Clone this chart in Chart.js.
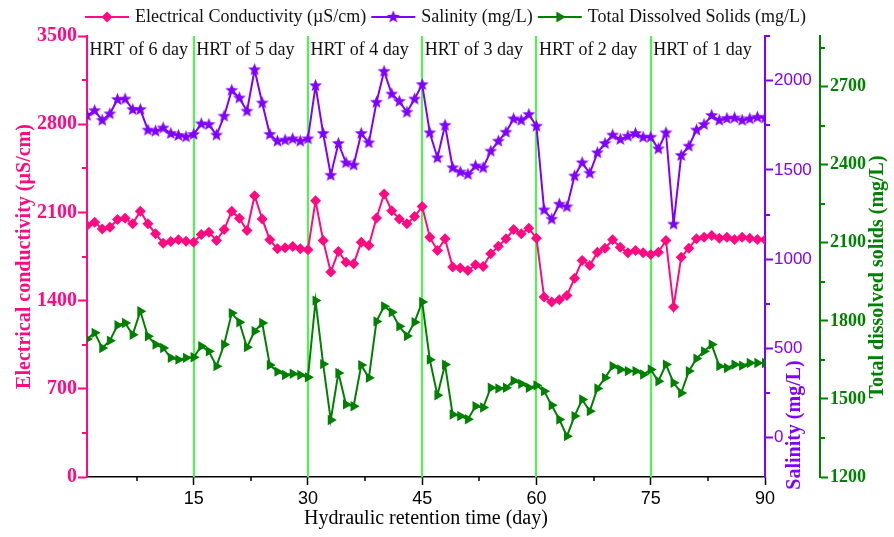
<!DOCTYPE html>
<html>
<head>
<meta charset="utf-8">
<script src="https://cdn.jsdelivr.net/npm/chart.js@4.4.1/dist/chart.umd.min.js"></script>
<style>
  html, body { margin: 0; padding: 0; background: #fff; }
  #wrap { width: 894px; height: 537px; }
</style>
</head>
<body>
<div id="wrap"><canvas id="chartHRT"></canvas></div>
<script>
// days of operation
const days = [1,2,3,4,5,6,7,8,9,10,11,12,13,14,15,16,17,18,19,20,
  21,22,23,24,25,26,27,28,29,30,31,32,33,34,35,36,37,38,39,40,
  41,42,43,44,45,46,47,48,49,50,51,52,53,54,55,56,57,58,59,60,
  61,62,63,64,65,66,67,68,69,70,71,72,73,74,75,76,77,78,79,80,
  81,82,83,84,85,86,87,88,89,90];

// Electrical conductivity (uS/cm)
const conductivity = [1996,2022,1969,1982,2043,2054,2009,2109,2009,1930,
  1856,1869,1882,1872,1864,1924,1943,1877,1964,2109,
  2054,1956,2233,2048,1882,1811,1819,1829,1811,1803,
  2193,1877,1626,1790,1705,1692,1864,1837,2056,2246,
  2114,2048,2009,2067,2146,1903,1798,1890,1666,1658,
  1639,1684,1671,1771,1832,1890,1964,1930,1974,1895,
  1428,1388,1407,1441,1578,1718,1679,1784,1816,1882,
  1824,1779,1798,1779,1766,1784,1877,1349,1745,1816,
  1890,1903,1916,1895,1903,1885,1903,1895,1885,1882];

// Salinity (mg/L)
const salinity = [1805,1832,1778,1814,1894,1897,1838,1838,1723,1717,
  1735,1704,1693,1685,1699,1758,1754,1695,1801,1946,
  1903,1829,2061,1875,1699,1661,1667,1674,1661,1674,
  1972,1704,1470,1648,1540,1527,1704,1652,1879,2052,
  1925,1884,1823,1897,1978,1708,1568,1750,1512,1488,
  1475,1522,1512,1605,1661,1711,1786,1778,1810,1745,
  1276,1224,1308,1293,1466,1540,1481,1596,1648,1695,
  1671,1689,1704,1683,1683,1618,1708,1196,1581,1633,
  1723,1754,1805,1778,1788,1791,1778,1786,1795,1791];

// Total dissolved solids (mg/L)
const tds = [1730,1754,1696,1724,1783,1792,1747,1837,1741,1709,
  1696,1658,1651,1658,1660,1703,1683,1626,1709,1830,
  1795,1699,1760,1792,1630,1605,1592,1597,1592,1583,
  1878,1634,1419,1600,1479,1472,1630,1581,1798,1856,
  1833,1779,1742,1795,1873,1651,1514,1632,1440,1434,
  1422,1472,1467,1543,1540,1543,1570,1558,1543,1552,
  1530,1476,1421,1357,1434,1498,1453,1540,1581,1626,
  1613,1607,1607,1594,1613,1568,1632,1562,1523,1607,
  1655,1683,1709,1626,1619,1632,1628,1638,1638,1638];

// HRT stages
const hrtStarts = [1, 15, 30, 45, 60, 75];
const hrtBounds = [15, 30, 45, 60, 75];
const hrtLabels = ['HRT of 6 day', 'HRT of 5 day', 'HRT of 4 day', 'HRT of 3 day', 'HRT of 2 day', 'HRT of 1 day'];

// tick values (labels shown only on the major ones)
const xTicks = [7.5, 15, 22.5, 30, 37.5, 45, 52.5, 60, 67.5, 75, 82.5, 90];
const ecTicks = [0, 350, 700, 1050, 1400, 1750, 2100, 2450, 2800, 3150, 3500];
const salTicks = [0, 250, 500, 750, 1000, 1250, 1500, 1750, 2000, 2250];
const tdsTicks = [1200, 1350, 1500, 1650, 1800, 1950, 2100, 2250, 2400, 2550, 2700, 2850];

const pink = '#ff0a80', purple = '#8000ff', green = '#008000', lime = '#40ff40';
const serif = "'Liberation Serif', 'Times New Roman', serif";
const sans = "'Liberation Sans', Arial, sans-serif";

// small marker pictures (filled star, legend line+marker)
function icon(kind, color, w, h) {
  const cv = document.createElement('canvas');
  cv.width = w; cv.height = h;
  const c = cv.getContext('2d');
  c.fillStyle = color; c.strokeStyle = color;
  const cx = w / 2, cy = h / 2;
  if (w > h) {
    c.lineWidth = 2;
    c.beginPath(); c.moveTo(1, cy); c.lineTo(w - 1, cy); c.stroke();
  }
  c.beginPath();
  if (kind === 'diamond') {
    c.moveTo(cx, cy - 5.5); c.lineTo(cx + 5.5, cy); c.lineTo(cx, cy + 5.5); c.lineTo(cx - 5.5, cy);
  } else if (kind === 'star') {
    for (let k = 0; k < 10; k++) {
      const r = k % 2 ? 2.9 : 6.8;
      const a = -Math.PI / 2 + k * Math.PI / 5;
      c.lineTo(cx + r * Math.cos(a), cy + r * Math.sin(a));
    }
  } else {
    c.moveTo(cx + 6, cy); c.lineTo(cx - 3.5, cy - 5.5); c.lineTo(cx - 3.5, cy + 5.5);
  }
  c.closePath();
  c.fill();
  return cv;
}

const starMark = icon('star', purple, 15, 15);
const legendIcons = [icon('diamond', pink, 46, 16), icon('star', purple, 46, 16), icon('tri', green, 46, 16)];

const hrtPlugin = {
  id: 'hrt',
  beforeDatasetsDraw(chart) {
    const {ctx, chartArea, scales} = chart;
    ctx.save();
    ctx.strokeStyle = lime;
    ctx.lineWidth = 2;
    hrtBounds.forEach(d => {
      const px = Math.round(scales.x.getPixelForValue(d));
      ctx.beginPath();
      ctx.moveTo(px, chartArea.top);
      ctx.lineTo(px, chartArea.bottom);
      ctx.stroke();
    });
    ctx.fillStyle = '#111';
    ctx.font = '18px ' + serif;
    ctx.textBaseline = 'alphabetic';
    hrtStarts.forEach((d, i) => {
      ctx.fillText(hrtLabels[i], scales.x.getPixelForValue(d) + 2.5, chartArea.top + 19);
    });
    ctx.restore();
  }
};

const extrasPlugin = {
  id: 'extras',
  afterDraw(chart) {
    const {ctx, chartArea, scales} = chart;
    // minor tick marks
    [['x', 15, '#000'], ['y', 700, pink], ['y1', 500, purple], ['y2', 300, green]].forEach(([id, major, color]) => {
      const s = scales[id];
      ctx.save();
      ctx.strokeStyle = color;
      ctx.lineWidth = id === 'x' ? 1.5 : 2;
      s.ticks.forEach(t => {
        if (t.value % major === 0) return;
        const p = Math.round(s.getPixelForValue(t.value));
        ctx.beginPath();
        if (id === 'x') { ctx.moveTo(p, s.top); ctx.lineTo(p, s.top + 4); }
        else if (id === 'y') { ctx.moveTo(s.right, p); ctx.lineTo(s.right - 5, p); }
        else { ctx.moveTo(s.left, p); ctx.lineTo(s.left + 5, p); }
        ctx.stroke();
      });
      ctx.restore();
    });
    // right axis titles
    ctx.save();
    ctx.textAlign = 'center';
    ctx.textBaseline = 'middle';
    ctx.font = 'bold 20px ' + serif;
    ctx.fillStyle = purple;
    ctx.translate(scales.y1.left + 30, chartArea.bottom - 52);
    ctx.rotate(-Math.PI / 2);
    ctx.fillText('Salinity (mg/L)', 0, 0);
    ctx.restore();
    ctx.save();
    ctx.textAlign = 'center';
    ctx.textBaseline = 'middle';
    ctx.font = 'bold 20px ' + serif;
    ctx.fillStyle = green;
    ctx.translate(scales.y2.right - 16, chartArea.top + 241);
    ctx.rotate(-Math.PI / 2);
    ctx.fillText('Total dissolved solids (mg/L)', 0, 0);
    ctx.restore();
  }
};

const setTicks = list => scale => { scale.ticks = list.map(v => ({value: v})); };

new Chart(document.querySelector('#chartHRT'), {
  type: 'line',
  data: {
    labels: days,
    datasets: [{
      label: 'Electrical Conductivity (µS/cm)',
      data: conductivity,
      yAxisID: 'y',
      borderColor: pink,
      backgroundColor: pink,
      borderWidth: 2,
      pointStyle: 'rectRot',
      pointRadius: 5.5,
      pointBorderWidth: 0
    }, {
      label: 'Salinity (mg/L)',
      data: salinity,
      yAxisID: 'y1',
      borderColor: purple,
      backgroundColor: purple,
      borderWidth: 2,
      pointStyle: starMark,
      pointRadius: 6
    }, {
      label: 'Total Dissolved Solids (mg/L)',
      data: tds,
      yAxisID: 'y2',
      borderColor: green,
      backgroundColor: green,
      borderWidth: 2,
      pointStyle: 'triangle',
      pointRotation: 90,
      pointRadius: 6,
      pointBorderWidth: 0
    }]
  },
  options: {
    responsive: true,
    maintainAspectRatio: false,
    animation: false,
    layout: { padding: 0 },
    plugins: {
      tooltip: { enabled: false },
      legend: {
        position: 'top',
        labels: {
          usePointStyle: true,
          pointStyleWidth: 38,
          padding: 8,
          color: '#111',
          font: { family: serif, size: 18 },
          generateLabels: chart => Chart.defaults.plugins.legend.labels.generateLabels(chart)
            .map((item, i) => Object.assign(item, { pointStyle: legendIcons[i], rotation: 0 }))
        }
      }
    },
    scales: {
      x: {
        type: 'linear',
        min: 1,
        max: 90,
        afterBuildTicks: setTicks(xTicks),
        afterFit: s => { s.height = 60; },
        ticks: {
          autoSkip: false, maxRotation: 0, padding: 3, color: '#000',
          font: { family: sans, size: 18 },
          callback: v => v % 15 === 0 ? v : ''
        },
        grid: {
          drawOnChartArea: false, tickLength: 8, tickWidth: 1.5,
          tickColor: c => c.tick && c.tick.value % 15 === 0 ? '#000' : 'rgba(0,0,0,0)'
        },
        border: { color: '#000', width: 1.5 },
        title: {
          display: true, text: 'Hydraulic retention time (day)', color: '#000',
          font: { family: serif, size: 20 }, padding: 6
        }
      },
      y: {
        position: 'left',
        min: 0,
        max: 3500,
        afterBuildTicks: setTicks(ecTicks),
        afterFit: s => { s.width = 87; },
        ticks: {
          autoSkip: false, padding: 1, color: pink,
          font: { family: serif, size: 20, weight: 'bold' },
          callback: v => v % 700 === 0 ? v : ''
        },
        grid: {
          drawOnChartArea: false, tickLength: 9, tickWidth: 2,
          tickColor: c => c.tick && c.tick.value % 700 === 0 ? pink : 'rgba(0,0,0,0)'
        },
        border: { color: pink, width: 2 },
        title: {
          display: true, text: 'Electrical conductivity (µS/cm)', color: pink,
          font: { family: serif, size: 20, weight: 'bold' }, padding: 13
        }
      },
      y1: {
        position: 'right',
        weight: 0,
        min: -220,
        max: 2250,
        afterBuildTicks: setTicks(salTicks),
        afterFit: s => { s.width = 55; },
        ticks: {
          autoSkip: false, padding: 1, color: purple,
          font: { family: sans, size: 17 },
          callback: v => v % 500 === 0 ? v : ''
        },
        grid: {
          drawOnChartArea: false, tickLength: 8, tickWidth: 2,
          tickColor: c => c.tick && c.tick.value % 500 === 0 ? purple : 'rgba(0,0,0,0)'
        },
        border: { color: purple, width: 2 }
      },
      y2: {
        position: 'right',
        weight: 1,
        min: 1200,
        max: 2895,
        afterBuildTicks: setTicks(tdsTicks),
        afterFit: s => { s.width = 74; },
        ticks: {
          autoSkip: false, padding: 2, color: green,
          font: { family: serif, size: 18, weight: 'bold' },
          callback: v => v % 300 === 0 ? v : ''
        },
        grid: {
          drawOnChartArea: false, tickLength: 8, tickWidth: 2,
          tickColor: c => c.tick && c.tick.value % 300 === 0 ? green : 'rgba(0,0,0,0)'
        },
        border: { color: green, width: 2 }
      }
    }
  },
  plugins: [hrtPlugin, extrasPlugin]
});
</script>
</body>
</html>
